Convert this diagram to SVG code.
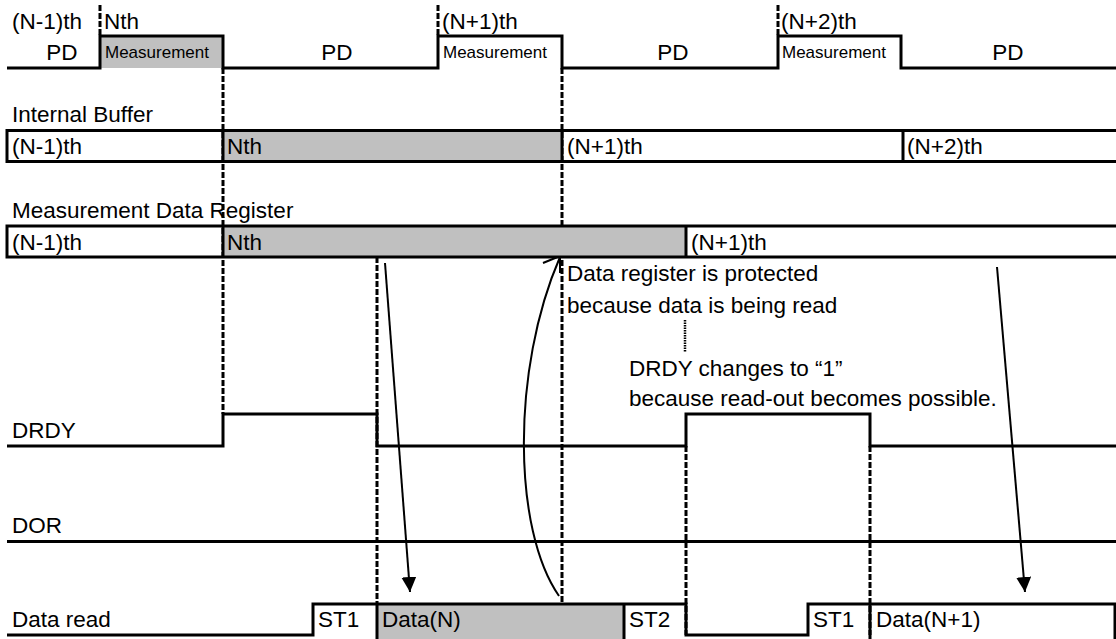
<svg xmlns="http://www.w3.org/2000/svg" width="1116" height="639" viewBox="0 0 1116 639">
<style>
text{font-family:"Liberation Sans",Arial,sans-serif;font-size:22.5px;fill:#000}
.sm{font-size:17px}
.w{fill:none;stroke:#000;stroke-width:3}
.d{fill:none;stroke:#000;stroke-width:3;stroke-dasharray:6 2}
.dot{fill:none;stroke:#000;stroke-width:2.5;stroke-dasharray:1.5 1}
.g{fill:#c0c0c0}
.a{fill:none;stroke:#000;stroke-width:2}
</style>
<defs>
<marker id="ah" markerWidth="15" markerHeight="15" refX="15" refY="7.5" orient="auto" markerUnits="userSpaceOnUse"><path d="M0,0 L15,7.5 L0,15 z" fill="#000"/></marker>
</defs>
<rect width="1116" height="639" fill="#fff"/>

<g id="connectors">
<path class="d" d="M100 5V36M438 5V36M778 5V36"/>
<path class="d" d="M223 68V414M562 68V604M377 257V604M686 446V635M870 446V635"/>
<path class="dot" d="M685 320V352"/>
<path class="a" d="M385 263L410 592" marker-end="url(#ah)"/>
<path class="a" d="M997 267L1025 592" marker-end="url(#ah)"/>
<path class="a" d="M559 596C513 530 511 370 560 257"/>
<path class="a" d="M543 263L560 256L560 273"/>
</g>

<g id="pd-signal">
<rect class="g" x="100" y="36" width="123" height="32"/>
<path class="w" d="M7 68H100V36H223V68H438V36H562V68H778V36H901V68H1120"/>
<text x="12" y="29">(N-1)th</text>
<text x="104" y="29">Nth</text>
<text x="442" y="29">(N+1)th</text>
<text x="781" y="29">(N+2)th</text>
<text x="62" y="60" text-anchor="middle">PD</text>
<text x="337" y="60" text-anchor="middle">PD</text>
<text x="673" y="60" text-anchor="middle">PD</text>
<text x="1008" y="60" text-anchor="middle">PD</text>
<text class="sm" x="105" y="58">Measurement</text>
<text class="sm" x="443" y="58">Measurement</text>
<text class="sm" x="782" y="58">Measurement</text>
</g>

<g id="internal-buffer">
<text x="12" y="122">Internal Buffer</text>
<rect class="g" x="223" y="130.5" width="339" height="31"/>
<rect class="w" x="7" y="130.5" width="1115" height="31"/>
<path class="w" d="M223 130.5V161.5M562 130.5V161.5M903 130.5V161.5"/>
<text x="12" y="154">(N-1)th</text>
<text x="227" y="154">Nth</text>
<text x="567" y="154">(N+1)th</text>
<text x="907" y="154">(N+2)th</text>
</g>

<g id="measurement-data-register">
<text x="12" y="218">Measurement Data Register</text>
<rect class="g" x="223" y="226" width="463" height="31"/>
<rect class="w" x="7" y="226" width="1115" height="31"/>
<path class="w" d="M223 226V257M686 226V257"/>
<text x="12" y="249.5">(N-1)th</text>
<text x="227" y="249.5">Nth</text>
<text x="691" y="249.5">(N+1)th</text>
</g>

<g id="notes">
<text x="567" y="281">Data register is protected</text>
<text x="567" y="313">because data is being read</text>
<text x="629" y="376">DRDY changes to “1”</text>
<text x="629" y="406">because read-out becomes possible.</text>
</g>

<g id="drdy">
<text x="12" y="438">DRDY</text>
<path class="w" d="M7 446H223V414H377V446H686V414H870V446H1120"/>
</g>

<g id="dor">
<text x="12" y="533">DOR</text>
<path class="w" d="M7 541.5H1120"/>
</g>

<g id="data-read">
<rect class="g" x="377" y="604" width="247" height="36"/>
<path class="w" d="M7 635H313V604H686V635H808V604H1115V640M377 604V640M624 604V640M870 604V640"/>
<text x="12" y="627">Data read</text>
<text x="318" y="627">ST1</text>
<text x="382" y="627">Data(N)</text>
<text x="629" y="627">ST2</text>
<text x="813" y="627">ST1</text>
<text x="876" y="627">Data(N+1)</text>
</g>
</svg>
